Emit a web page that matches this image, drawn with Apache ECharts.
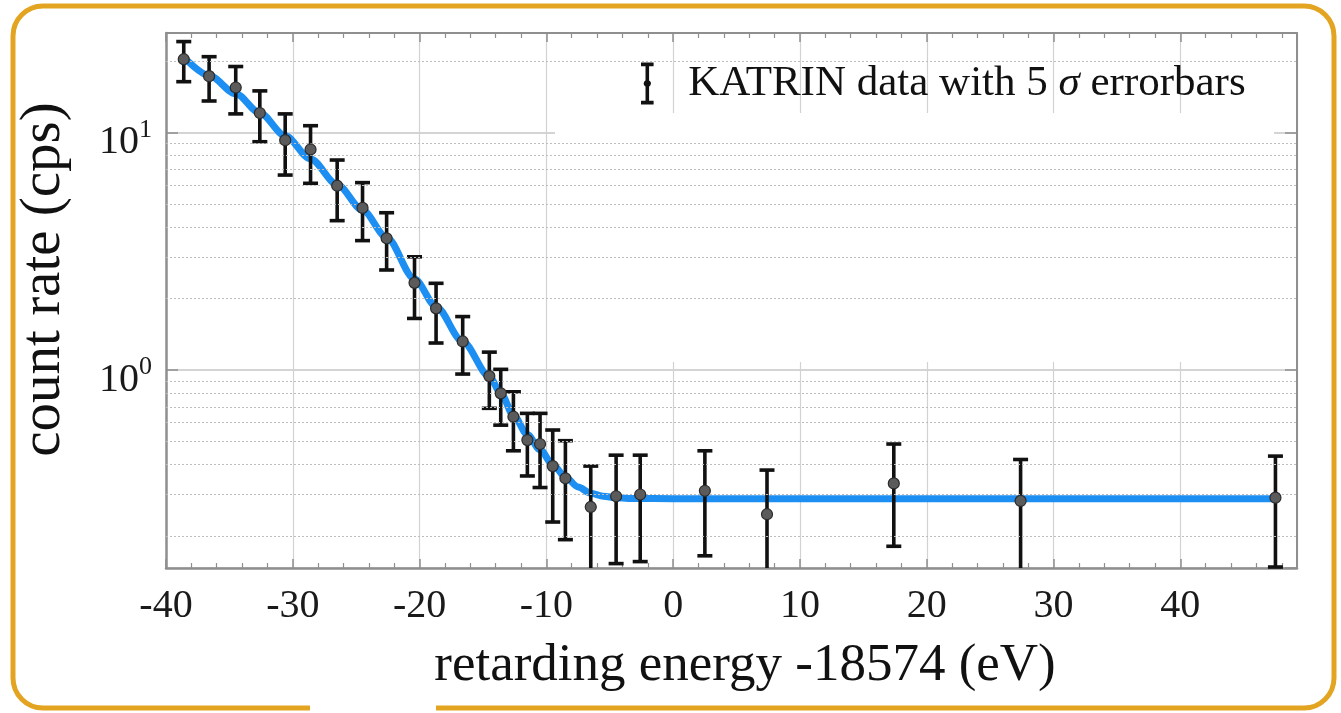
<!DOCTYPE html>
<html>
<head>
<meta charset="utf-8">
<style>
  html, body { margin: 0; padding: 0; background: #ffffff; }
  #chart { width: 1341px; height: 713px; }
</style>
<script src="https://cdn.jsdelivr.net/npm/echarts@6/dist/echarts.min.js"></script>
</head>
<body>
<div id="chart"></div>
<script>
// ---- data ----
const energies = [-38.6, -36.6, -34.5, -32.6, -30.6, -28.6, -26.5, -24.5, -22.6, -20.4, -18.7, -16.6, -14.5, -13.6, -12.6, -11.5, -10.5, -9.5, -8.5, -6.5, -4.5, -2.6, 2.5, 7.4, 17.4, 27.4, 47.5];
const rates    = [20.4, 17.3, 15.5, 12.1, 9.3, 8.5, 5.98, 4.82, 3.59, 2.33, 1.82, 1.32, 0.943, 0.798, 0.636, 0.507, 0.488, 0.394, 0.350, 0.265, 0.294, 0.299, 0.310, 0.247, 0.333, 0.281, 0.290];
const upper    = [24.2, 20.9, 19.0, 15.0, 12.0, 10.7, 7.67, 6.16, 4.60, 3.00, 2.32, 1.68, 1.19, 1.007, 0.810, 0.657, 0.657, 0.559, 0.504, 0.394, 0.438, 0.438, 0.457, 0.379, 0.488, 0.420, 0.434];
const lower    = [16.4, 13.6, 12.0, 9.16, 6.63, 6.12, 4.26, 3.51, 2.64, 1.65, 1.30, 0.962, 0.690, 0.586, 0.457, 0.358, 0.320, 0.229, 0.193, 0.13, 0.153, 0.156, 0.165, 0.13, 0.181, 0.13, 0.148];

const fitEnergies = [-38.6, -36.6, -34.5, -32.6, -30.6, -28.6, -26.5, -24.5, -22.6, -20.4, -18.7, -16.6, -14.5, -13.6, -12.6, -11.5, -10.5, -9.5, -8.5, -7.5, -6.5, -5.5, -4.5, -3.0, 0, 47.5];
const fitRates    = [20.8, 17.4, 14.6, 12.1, 9.7, 7.75, 6.05, 4.72, 3.62, 2.42, 1.85, 1.32, 0.94, 0.80, 0.645, 0.535, 0.462, 0.40, 0.354, 0.322, 0.303, 0.294, 0.2895, 0.2875, 0.2873, 0.2873];

const minorGridValues = [0.2, 0.3, 0.4, 0.5, 0.6, 0.7, 0.8, 0.9, 2, 3, 4, 5, 6, 7, 8, 9, 20];
const yTickValues = [1, 10];
const yTickExponents = ['0', '1'];
const xTickValues = [-40, -30, -20, -10, 0, 10, 20, 30, 40];

const seriesName = 'KATRIN data with 5 σ errorbars';
const xAxisTitle = 'retarding energy -18574 (eV)';
const yAxisTitle = 'count rate (cps)';

const SERIF = '"Liberation Serif", "DejaVu Serif", serif';
const AXIS_GRAY = '#8f8f8f';

const chart = echarts.init(document.getElementById('chart'), null, { renderer: 'canvas' });

function yLabel(v) {
  for (let i = 0; i < yTickValues.length; i++) {
    if (Math.abs(v - yTickValues[i]) < 1e-9 * yTickValues[i]) {
      return '{b|10}{s|' + yTickExponents[i] + '}';
    }
  }
  return '';
}
function xLabel(v) {
  return xTickValues.indexOf(Math.round(v * 1000) / 1000) >= 0 ? String(v) : '';
}

const errData = energies.map((e, i) => [e, lower[i], upper[i]]);
const ptData = energies.map((e, i) => [e, rates[i]]);
const fitData = fitEnergies.map((e, i) => [e, fitRates[i]]);

const option = {
  animation: false,
  backgroundColor: '#ffffff',
  grid: { left: 166, right: 44, top: 33, bottom: 145, containLabel: false, outerBoundsMode: 'none' },
  legend: {
    data: [{
      name: seriesName,
      icon: 'path://M0,0H12V3.5H7.7V17.2A3.2,3.2 0 0 1 7.7,22.8V36.5H12V40H0V36.5H4.3V22.8A3.2,3.2 0 0 1 4.3,17.2V3.5H0Z'
    }],
    left: 636, top: 57,
    itemWidth: 72, itemHeight: 42,
    selectedMode: false,
    formatter: () => 'KATRIN data with 5 {i|σ} errorbars',
    textStyle: {
      fontFamily: SERIF, fontSize: 43, color: '#111',
      rich: { i: { fontFamily: SERIF, fontStyle: 'italic', fontSize: 43, color: '#111' } }
    },
    itemStyle: { color: '#111' }
  },
  xAxis: [{
    type: 'value', min: -40, max: 49.2, interval: 10,
    position: 'bottom', z: 0,
    name: xAxisTitle, nameLocation: 'middle', nameGap: 72,
    nameTextStyle: { fontFamily: SERIF, fontSize: 53, color: '#111', padding: [0, 0, 0, 27] },
    axisLine: { show: true, onZero: false, lineStyle: { color: AXIS_GRAY, width: 2.5 } },
    axisTick: { show: true, inside: true, length: 9, lineStyle: { color: AXIS_GRAY, width: 1.5 } },
    minorTick: { show: true, splitNumber: 5, length: 5, lineStyle: { color: AXIS_GRAY, width: 1.2 } },
    axisLabel: { show: true, margin: 18, fontFamily: SERIF, fontSize: 40, color: '#1a1a1a',
                 showMaxLabel: false, formatter: xLabel },
    splitLine: { show: true, lineStyle: { color: '#d2d2d2', width: 1.2 } }
  }, {
    type: 'value', min: -40, max: 49.2, interval: 10,
    position: 'top', z: 0,
    axisLine: { show: true, onZero: false, lineStyle: { color: AXIS_GRAY, width: 2 } },
    axisTick: { show: true, inside: true, length: 9, lineStyle: { color: AXIS_GRAY, width: 1.5 } },
    minorTick: { show: true, splitNumber: 5, length: 5, lineStyle: { color: AXIS_GRAY, width: 1.2 } },
    axisLabel: { show: false },
    splitLine: { show: false }
  }],
  yAxis: [{
    type: 'log', logBase: 10, min: 0.1466, max: 26.3,
    position: 'left', z: 0,
    name: yAxisTitle, nameLocation: 'middle', nameGap: 93, nameRotate: 90,
    nameTextStyle: { fontFamily: SERIF, fontSize: 57, color: '#111', padding: [0, 0, 0, 42] },
    axisLine: { show: true, onZero: false, lineStyle: { color: AXIS_GRAY, width: 2.5 } },
    axisTick: { show: true, inside: true, length: 12, lineStyle: { color: AXIS_GRAY, width: 1.5 } },
    axisLabel: {
      show: true, margin: 14, showMinLabel: false, showMaxLabel: false,
      formatter: yLabel, padding: [14, 0, 0, 0],
      rich: {
        b: { fontFamily: SERIF, fontSize: 40, color: '#1a1a1a', lineHeight: 46, verticalAlign: 'bottom' },
        s: { fontFamily: SERIF, fontSize: 26, color: '#1a1a1a', lineHeight: 20, verticalAlign: 'top' }
      }
    },
    splitLine: { show: true, lineStyle: { color: '#c6c6c6', width: 1.5 } }
  }, {
    type: 'log', logBase: 10, min: 0.1466, max: 26.3,
    position: 'right', z: 0,
    axisLine: { show: true, onZero: false, lineStyle: { color: AXIS_GRAY, width: 2 } },
    axisTick: { show: true, inside: true, length: 12, lineStyle: { color: AXIS_GRAY, width: 1.5 } },
    axisLabel: { show: false },
    splitLine: { show: false }
  }],
  graphic: [
    // outer gold frame
    { type: 'rect', z: 10, silent: true,
      shape: { x: 13, y: 6, width: 1321, height: 702, r: 30 },
      style: { fill: null, stroke: '#E3A521', lineWidth: 5 } },
    // gap in bottom border of frame
    { type: 'rect', z: 11, silent: true,
      shape: { x: 310, y: 700, width: 126, height: 13 },
      style: { fill: '#ffffff' } },
    // white patch over the grid (remnant of covered legend entry)
    { type: 'rect', z: 1, silent: true,
      shape: { x: 555, y: 113, width: 719, height: 249 },
      style: { fill: '#ffffff' } }
  ],
  series: [
    {
      name: 'minor grid', type: 'line', data: [], z: 0, silent: true,
      xAxisIndex: 0, yAxisIndex: 0,
      markLine: {
        silent: true, symbol: ['none', 'none'], label: { show: false },
        lineStyle: { color: '#bdbdbd', width: 1, type: [2, 2] },
        data: minorGridValues.map(v => ({ yAxis: v }))
      }
    },
    {
      name: 'fit', type: 'line', data: fitData, z: 3,
      xAxisIndex: 0, yAxisIndex: 0,
      smooth: 0.3, smoothMonotone: 'x', showSymbol: false, symbol: 'none',
      lineStyle: { color: '#1d8ff2', width: 7, cap: 'butt' }
    },
    {
      name: seriesName, type: 'custom', data: errData, z: 4,
      xAxisIndex: 0, yAxisIndex: 0,
      itemStyle: { color: '#111' },
      renderItem: function (params, api) {
        const x = api.value(0), lo = api.value(1), hi = api.value(2);
        const pHi = api.coord([x, hi]);
        const pLo = api.coord([x, lo]);
        const cs = params.coordSys;
        const bottom = cs.y + cs.height;
        let yLo = pLo[1];
        const loClipped = yLo > bottom + 0.5;
        if (loClipped) yLo = bottom;
        const cx = pHi[0];
        const half = 7.5;
        const st = { stroke: '#111', lineWidth: 3.6 };
        const children = [
          { type: 'line', shape: { x1: cx, y1: pHi[1], x2: cx, y2: yLo }, style: st },
          { type: 'line', shape: { x1: cx - half, y1: pHi[1], x2: cx + half, y2: pHi[1] }, style: st }
        ];
        if (!loClipped) {
          children.push({ type: 'line', shape: { x1: cx - half, y1: yLo, x2: cx + half, y2: yLo }, style: st });
        }
        return { type: 'group', children: children };
      }
    },
    {
      name: 'points', type: 'scatter', data: ptData, z: 5,
      xAxisIndex: 0, yAxisIndex: 0,
      symbol: 'circle', symbolSize: 11,
      itemStyle: { color: '#5b5b5b', borderColor: '#2b2b2b', borderWidth: 1.2, opacity: 1 }
    }
  ]
};

chart.setOption(option);
</script>
</body>
</html>
